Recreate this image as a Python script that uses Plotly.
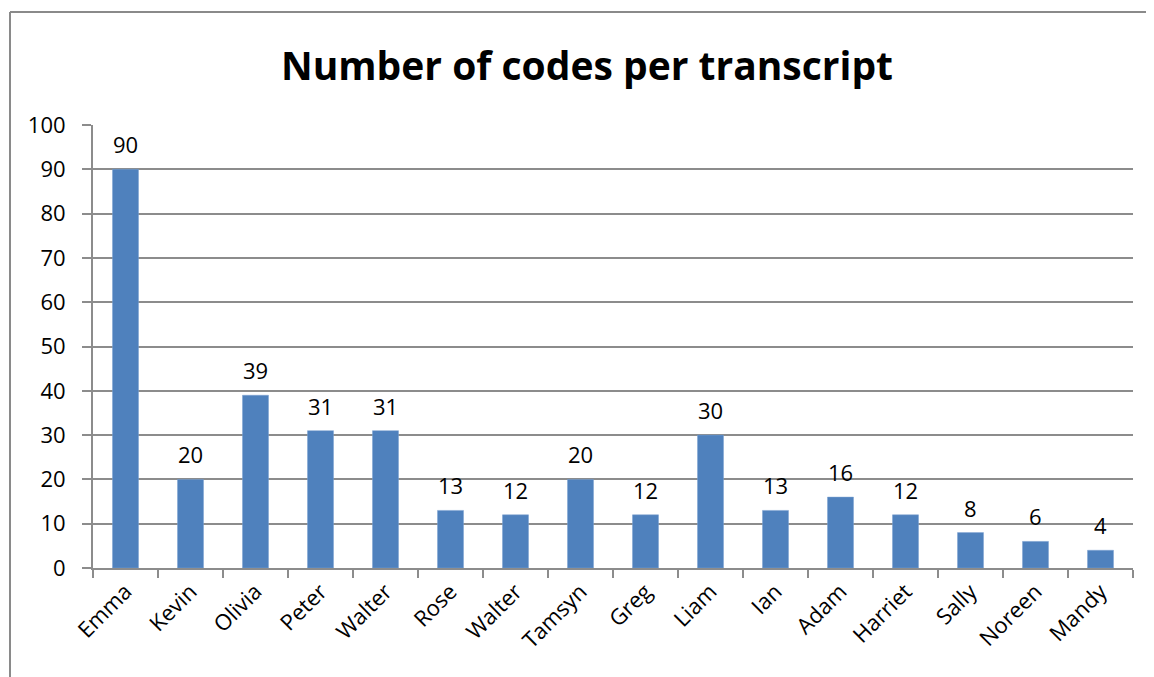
import plotly.graph_objects as go

names = ["Emma", "Kevin", "Olivia", "Peter", "Walter", "Rose", "Walter", "Tamsyn",
         "Greg", "Liam", "Ian", "Adam", "Harriet", "Sally", "Noreen", "Mandy"]
codes = [90, 20, 39, 31, 31, 13, 12, 20, 12, 30, 13, 16, 12, 8, 6, 4]
y_ticks = list(range(0, 101, 10))

positions = list(range(len(names)))
FONT = "Open Sans, Calibri, sans-serif"
GRID = "#8c8c8c"

# page has 8px body margin; figure sized to fit window
OFF = 8
W, H = 1154 - OFF, 677 - OFF
L, T = 93 - OFF, 125 - OFF
R = W - (1133 - OFF)
B = H - (568 - OFF)
pw, ph = W - L - R, H - T - B

def px_x(x):
    return (x - OFF - L) / pw

def px_y(y):
    return (H - B - (y - OFF)) / ph

fig = go.Figure()
fig.add_trace(go.Bar(
    x=positions, y=codes, width=0.4,
    marker=dict(color="#4f81bd", line=dict(color="#7aa0d0", width=0.5)),
    hoverinfo="skip",
))

for p, v in zip(positions, codes):
    fig.add_annotation(x=p, y=v, text=str(v), showarrow=False,
                       yanchor="bottom", yshift=8,
                       font=dict(family=FONT, size=22, color="black"))

fig.add_shape(type="line", xref="paper", yref="paper",
              x0=px_x(10), x1=px_x(10), y0=px_y(700), y1=px_y(12),
              line=dict(color="#8a8a8a", width=2))
fig.add_shape(type="line", xref="paper", yref="paper",
              x0=px_x(10), x1=px_x(1160), y0=px_y(12), y1=px_y(12),
              line=dict(color="#8a8a8a", width=2))

fig.update_layout(
    width=W, height=H,
    margin=dict(l=L, r=R, t=T, b=B),
    paper_bgcolor="white", plot_bgcolor="white",
    showlegend=False,
    title=dict(text="<b>Number of codes per transcript</b>",
               x=(587 - OFF) / W, xanchor="center", y=1 - (66 - OFF) / H,
               yanchor="middle", yref="container",
               font=dict(family=FONT, size=39, color="black")),
    font=dict(family=FONT, size=22, color="black"),
    xaxis=dict(
        range=[-0.5, len(names) - 0.5],
        tickmode="array", tickvals=positions, ticktext=names,
        tickangle=-45, ticks="", showgrid=False,
        showline=True, linecolor=GRID, linewidth=2,
        tickfont=dict(family=FONT, size=22, color="black"),
        minor=dict(tickmode="array",
                   tickvals=[p - 0.5 for p in positions] + [len(names) - 0.5],
                   ticks="outside", ticklen=8, tickcolor=GRID, tickwidth=2,
                   showgrid=False),
        zeroline=False,
    ),
    yaxis=dict(
        range=[0, 100], tickmode="array", tickvals=y_ticks,
        ticks="outside", ticklen=9, tickcolor=GRID, tickwidth=1.5,
        ticklabelstandoff=12,
        showgrid=True, gridcolor=GRID, gridwidth=1.5,
        showline=True, linecolor=GRID, linewidth=2,
        zeroline=False,
        tickfont=dict(family=FONT, size=22, color="black"),
    ),
    bargap=0.6,
)

fig.write_html("out.html")
